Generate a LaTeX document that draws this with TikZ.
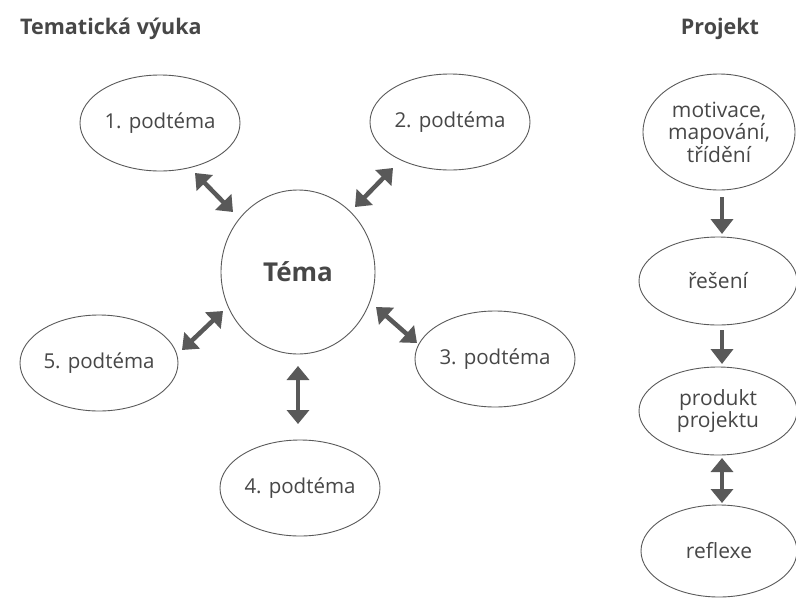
\documentclass[tikz,border=0pt]{standalone}
\usepackage{fontspec}
\setmainfont{Open Sans}
\usetikzlibrary{shapes.geometric,arrows.meta}
\definecolor{linegray}{HTML}{5A5A5A}
\definecolor{textgray}{HTML}{474747}
\definecolor{arrowgray}{HTML}{595959}
\tikzset{
  oval/.style={ellipse, draw=linegray, line width=0.9pt, inner sep=0pt, text=textgray,
    font=\fontsize{20.5}{23}\selectfont, align=center},
  rova/.style={oval, font=\fontsize{21}{22.5}\selectfont},
  title/.style={text=textgray, font=\bfseries\fontsize{21.5}{24}\selectfont, inner sep=0pt},
  dbl/.style={draw=arrowgray, line width=4.5pt,
    {Triangle[width=22pt,length=14pt]}-{Triangle[width=22pt,length=14pt]}},
  sgl/.style={draw=arrowgray, line width=4.5pt, -{Triangle[width=22pt,length=15pt]}}
}
\begin{document}
\begin{tikzpicture}[x=1pt,y=-1pt]
\useasboundingbox (0,0) rectangle (796,603);
\fill[white] (0,0) rectangle (796,603);
% titles
\node[title,anchor=west] (t1) at (20,29) {Tematická výuka};
\node[title] (t2) at (720,29) {Projekt};
% left diagram
\node[ellipse, draw=linegray, line width=0.9pt, inner sep=0pt, minimum width=154pt, minimum height=164pt,
  text=textgray, font=\bfseries\fontsize{26}{30}\selectfont] (tema) at (298,272) {Téma};
\node[oval, minimum width=160pt, minimum height=96pt] (p1) at (160,123) {1. podtéma};
\node[oval, minimum width=160pt, minimum height=96pt] (p2) at (450,122) {2. podtéma};
\node[oval, minimum width=160pt, minimum height=96pt] (p3) at (495,359) {3. podtéma};
\node[oval, minimum width=160pt, minimum height=96pt] (p4) at (300,488) {4. podtéma};
\node[oval, minimum width=158pt, minimum height=96pt] (p5) at (99,363) {5. podtéma};
% arrow ends
\coordinate (a1s) at (195,173); \coordinate (a1e) at (233,212);
\coordinate (a2s) at (393,168); \coordinate (a2e) at (355,207);
\coordinate (a3s) at (376,307); \coordinate (a3e) at (417,343);
\coordinate (a4s) at (298,366); \coordinate (a4e) at (298,424);
\coordinate (a5s) at (223,311); \coordinate (a5e) at (182,350);
\draw[dbl] (a1s) -- (a1e);
\draw[dbl] (a2s) -- (a2e);
\draw[dbl] (a3s) -- (a3e);
\draw[dbl] (a4s) -- (a4e);
\draw[dbl] (a5s) -- (a5e);
% right diagram
\node[rova, minimum width=152pt, minimum height=116pt] (r1) at (719,132) {motivace,\\ mapování,\\ třídění};
\node[rova, minimum width=158pt, minimum height=88pt] (r2) at (718,281) {řešení};
\node[rova, minimum width=158pt, minimum height=88pt] (r3) at (718,411) {produkt\\ projektu};
\node[rova, minimum width=156pt, minimum height=92pt] (r4) at (719,551) {reflexe};
\coordinate (b1s) at (722,197); \coordinate (b1e) at (722,234);
\coordinate (b2s) at (722,330); \coordinate (b2e) at (722,364);
\coordinate (b3s) at (722,458); \coordinate (b3e) at (722,503);
\draw[sgl] (b1s) -- (b1e);
\draw[sgl] (b2s) -- (b2e);
\draw[dbl] (b3s) -- (b3e);
\end{tikzpicture}
\end{document}
